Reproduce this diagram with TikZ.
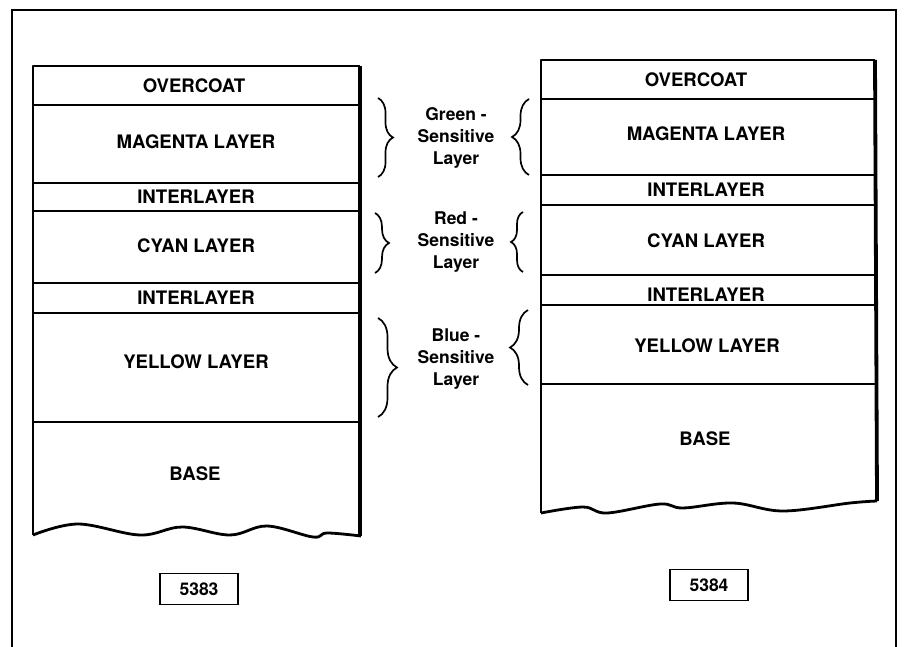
\documentclass[tikz,border=0pt]{standalone}
\usepackage{fontspec}
\setmainfont{TeX Gyre Heros}
\usetikzlibrary{decorations.pathreplacing}
\tikzset{
  frameline/.style={line width=2pt},
  outerline/.style={line width=2.8pt, line join=round},
  sideline/.style={line width=3.8pt},
  innerline/.style={line width=2pt},
  layertext/.style={font=\bfseries\fontsize{18.6}{22}\selectfont, inner sep=0pt},
  sidetext/.style={font=\bfseries\fontsize{17.5}{22}\selectfont, align=center, inner sep=0pt},
  numbox/.style={draw, line width=1.8pt, font=\bfseries\fontsize{17.5}{22}\selectfont, minimum width=78pt, minimum height=31pt, inner sep=0pt},
  bracel/.style={decorate, decoration={brace, amplitude=#1}, line width=1.7pt},
  bracer/.style={decorate, decoration={brace, amplitude=#1}, line width=1.7pt},
}
\begin{document}
\begin{tikzpicture}[x=1pt,y=-1pt]
\useasboundingbox (0,0) rectangle (904,647);
% outer frame (open at bottom)
\draw[frameline] (12,647) -- (12,10) -- (896,10) -- (896,647);

% ---------- left stack (5383) ----------
\draw[outerline] (33,535) -- (33,66) -- (360,66);
\draw[sideline] (360,66) -- (360,536);
\draw[outerline] plot[smooth, tension=0.6] coordinates {(33,535) (78,524) (140,535) (182,527) (230,535) (267,526) (313,537) (327,533) (361,536)};
\foreach \yy in {105,183,211,283,313,422} \draw[innerline] (33,\yy) -- (360,\yy);
\node[layertext] (lo) at (194,86) {OVERCOAT};
\node[layertext] (lm) at (196,142) {MAGENTA LAYER};
\node[layertext] (li1) at (196,197) {INTERLAYER};
\node[layertext] (lc) at (196,246) {CYAN LAYER};
\node[layertext] (li2) at (196,298) {INTERLAYER};
\node[layertext] (ly) at (196,362) {YELLOW LAYER};
\node[layertext] (lb) at (195,474) {BASE};
\node[numbox] (n1) at (199,589) {5383};

% ---------- right stack (5384) ----------
\draw[outerline] (541,513) -- (541,60) -- (875,60);
\draw[sideline] (875,60) -- (877,501);
\draw[outerline] plot[smooth, tension=0.6] coordinates {(541,513) (583,507) (607,513) (660,504) (683,508) (733,503) (783,511) (850,503) (877,501)};
\foreach \yy in {99,175,205,275,305,384} \draw[innerline] (541,\yy) -- (875,\yy);
\node[layertext] (ro) at (696,80) {OVERCOAT};
\node[layertext] (rm) at (706,134) {MAGENTA LAYER};
\node[layertext] (ri1) at (706,190) {INTERLAYER};
\node[layertext] (rc) at (706,241) {CYAN LAYER};
\node[layertext] (ri2) at (706,295) {INTERLAYER};
\node[layertext] (ry) at (707,346) {YELLOW LAYER};
\node[layertext] (rb) at (705,439) {BASE};
\node[numbox] (n2) at (709,585) {5384};

% ---------- side labels ----------
\node[sidetext] (g) at (456,138) {Green -\\Sensitive\\Layer};
\node[sidetext] (r) at (456,242) {Red -\\Sensitive\\Layer};
\node[sidetext] (b) at (456,359) {Blue -\\Sensitive\\Layer};

% braces
\draw[bracel=15pt] (378,98) -- (378,177);
\draw[bracer=17pt] (529,175) -- (529,99);
\draw[bracel=14pt] (375,213) -- (375,273);
\draw[bracer=12pt] (523,272) -- (523,212);
\draw[bracel=19pt] (378,318) -- (378,417);
\draw[bracer=18pt] (528,385) -- (528,310);
\end{tikzpicture}
\end{document}
